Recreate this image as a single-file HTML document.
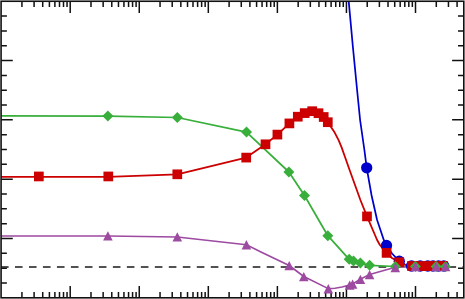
<!DOCTYPE html>
<html><head><meta charset="utf-8"><title>chart</title>
<style>html,body{margin:0;padding:0;background:#fff;font-family:"Liberation Sans",sans-serif;}body{width:465px;height:299px;overflow:hidden;position:relative}</style></head>
<body>
<svg width="465" height="299" viewBox="0 0 465 299" style="position:absolute;left:0;top:0">
<rect x="0" y="0" width="465" height="299" fill="#fff"/>
<path d="M21.93 1.25 V7.00 M21.93 297.8 V292.00 M34.09 1.25 V7.00 M34.09 297.8 V292.00 M42.72 1.25 V7.00 M42.72 297.8 V292.00 M49.41 1.25 V7.00 M49.41 297.8 V292.00 M54.88 1.25 V7.00 M54.88 297.8 V292.00 M59.50 1.25 V7.00 M59.50 297.8 V292.00 M63.51 1.25 V7.00 M63.51 297.8 V292.00 M67.04 1.25 V7.00 M67.04 297.8 V292.00 M70.20 1.25 V12.90 M70.20 297.8 V286.10 M90.99 1.25 V7.00 M90.99 297.8 V292.00 M103.15 1.25 V7.00 M103.15 297.8 V292.00 M111.78 1.25 V7.00 M111.78 297.8 V292.00 M118.47 1.25 V7.00 M118.47 297.8 V292.00 M123.94 1.25 V7.00 M123.94 297.8 V292.00 M128.56 1.25 V7.00 M128.56 297.8 V292.00 M132.57 1.25 V7.00 M132.57 297.8 V292.00 M136.10 1.25 V7.00 M136.10 297.8 V292.00 M139.26 1.25 V12.90 M139.26 297.8 V286.10 M160.05 1.25 V7.00 M160.05 297.8 V292.00 M172.21 1.25 V7.00 M172.21 297.8 V292.00 M180.84 1.25 V7.00 M180.84 297.8 V292.00 M187.53 1.25 V7.00 M187.53 297.8 V292.00 M193.00 1.25 V7.00 M193.00 297.8 V292.00 M197.62 1.25 V7.00 M197.62 297.8 V292.00 M201.63 1.25 V7.00 M201.63 297.8 V292.00 M205.16 1.25 V7.00 M205.16 297.8 V292.00 M208.32 1.25 V12.90 M208.32 297.8 V286.10 M229.11 1.25 V7.00 M229.11 297.8 V292.00 M241.27 1.25 V7.00 M241.27 297.8 V292.00 M249.90 1.25 V7.00 M249.90 297.8 V292.00 M256.59 1.25 V7.00 M256.59 297.8 V292.00 M262.06 1.25 V7.00 M262.06 297.8 V292.00 M266.68 1.25 V7.00 M266.68 297.8 V292.00 M270.69 1.25 V7.00 M270.69 297.8 V292.00 M274.22 1.25 V7.00 M274.22 297.8 V292.00 M277.38 1.25 V12.90 M277.38 297.8 V286.10 M298.17 1.25 V7.00 M298.17 297.8 V292.00 M310.33 1.25 V7.00 M310.33 297.8 V292.00 M318.96 1.25 V7.00 M318.96 297.8 V292.00 M325.65 1.25 V7.00 M325.65 297.8 V292.00 M331.12 1.25 V7.00 M331.12 297.8 V292.00 M335.74 1.25 V7.00 M335.74 297.8 V292.00 M339.75 1.25 V7.00 M339.75 297.8 V292.00 M343.28 1.25 V7.00 M343.28 297.8 V292.00 M346.44 1.25 V12.90 M346.44 297.8 V286.10 M367.23 1.25 V7.00 M367.23 297.8 V292.00 M379.39 1.25 V7.00 M379.39 297.8 V292.00 M388.02 1.25 V7.00 M388.02 297.8 V292.00 M394.71 1.25 V7.00 M394.71 297.8 V292.00 M400.18 1.25 V7.00 M400.18 297.8 V292.00 M404.80 1.25 V7.00 M404.80 297.8 V292.00 M408.81 1.25 V7.00 M408.81 297.8 V292.00 M412.34 1.25 V7.00 M412.34 297.8 V292.00 M415.50 1.25 V12.90 M415.50 297.8 V286.10 M436.29 1.25 V7.00 M436.29 297.8 V292.00 M448.45 1.25 V7.00 M448.45 297.8 V292.00 M457.08 1.25 V7.00 M457.08 297.8 V292.00 M1.08 16.08 H6.88 M463.8 16.08 H458.00 M1.08 30.91 H6.88 M463.8 30.91 H458.00 M1.08 45.73 H6.88 M463.8 45.73 H458.00 M1.08 60.56 H12.78 M463.8 60.56 H452.10 M1.08 75.39 H6.88 M463.8 75.39 H458.00 M1.08 90.22 H6.88 M463.8 90.22 H458.00 M1.08 105.04 H6.88 M463.8 105.04 H458.00 M1.08 119.87 H12.78 M463.8 119.87 H452.10 M1.08 134.70 H6.88 M463.8 134.70 H458.00 M1.08 149.53 H6.88 M463.8 149.53 H458.00 M1.08 164.35 H6.88 M463.8 164.35 H458.00 M1.08 179.18 H12.78 M463.8 179.18 H452.10 M1.08 194.01 H6.88 M463.8 194.01 H458.00 M1.08 208.84 H6.88 M463.8 208.84 H458.00 M1.08 223.66 H6.88 M463.8 223.66 H458.00 M1.08 238.49 H12.78 M463.8 238.49 H452.10 M1.08 253.32 H6.88 M463.8 253.32 H458.00 M1.08 268.14 H6.88 M463.8 268.14 H458.00 M1.08 282.97 H6.88 M463.8 282.97 H458.00" stroke="#111" stroke-width="1.5" fill="none"/>
<path d="M1 267 H463.5" stroke="#1a1a1a" stroke-width="1.7" stroke-dasharray="7.6 6.385" fill="none"/>
<clipPath id="cp"><rect x="1.08" y="1.25" width="462.72" height="296.55"/></clipPath>
<g clip-path="url(#cp)">
<path d="M348.6 0.0 L352.9 47.0 L357.6 95.0 L360.1 120.0 L364.4 150.0 L366.7 167.8 L371.5 195.0 L372.6 200.0 L377.1 220.0 L383.8 240.0 L386.5 245.5 L392.0 253.5 L399.3 261.2 L405.0 264.5 L411.5 266.0 L420.2 266.0 L427.8 266.0 L433.0 266.0 L438.5 266.0 L443.8 266.0" stroke="#0000CC" stroke-width="1.75" fill="none" stroke-linejoin="round"/>
<path d="M1.0 176.8 L38.9 176.8 L108.3 176.8 L177.3 174.3 L246.2 157.6 L265.5 144.3 L277.4 134.6 L289.4 123.4 L297.8 116.7 L304.7 113.1 L312.2 111.2 L318.5 113.2 L323.7 117.0 L327.8 122.2 L331.0 126.9 L334.7 132.6 L338.6 140.1 L341.7 147.6 L344.3 155.0 L349.6 170.0 L358.6 195.0 L360.4 200.0 L367.0 216.4 L377.1 240.0 L379.9 245.0 L386.6 252.9 L392.0 258.0 L399.2 262.3 L405.0 264.8 L412.0 266.0 L443.2 266.1" stroke="#CC0000" stroke-width="1.8" fill="none" stroke-linejoin="round"/>
<path d="M1.0 115.9 L107.9 116.0 L177.3 117.5 L246.5 132.1 L288.9 172.0 L304.5 195.5 L327.8 235.7 L349.2 259.3 L353.5 261.0 L360.4 263.1 L369.6 265.3 L395.3 266.5 L415.4 266.6 L436.1 266.6 L445.5 266.7" stroke="#39AF3B" stroke-width="1.75" fill="none" stroke-linejoin="round"/>
<path d="M1.0 236.0 L107.9 236.0 L177.3 237.0 L246.4 244.8 L262.0 252.5 L289.2 265.5 L303.8 276.5 L328.3 288.6 L335.0 288.3 L342.0 287.0 L349.7 285.0 L352.6 284.0 L360.4 279.2 L369.6 274.4 L395.3 267.3 L415.4 266.4 L436.1 266.3 L445.5 266.3" stroke="#9D4AA1" stroke-width="1.6" fill="none" stroke-linejoin="round"/>
<circle cx="366.7" cy="167.8" r="5.65" fill="#0000CC"/>
<circle cx="386.5" cy="245.5" r="5.65" fill="#0000CC"/>
<circle cx="399.3" cy="261.2" r="5.65" fill="#0000CC"/>
<circle cx="411.5" cy="266.0" r="5.65" fill="#0000CC"/>
<circle cx="420.2" cy="266.0" r="5.65" fill="#0000CC"/>
<circle cx="427.8" cy="266.0" r="5.65" fill="#0000CC"/>
<circle cx="433.0" cy="266.0" r="5.65" fill="#0000CC"/>
<circle cx="438.5" cy="266.0" r="5.65" fill="#0000CC"/>
<circle cx="443.8" cy="266.0" r="5.65" fill="#0000CC"/>
<rect x="34.00" y="171.60" width="9.7" height="9.7" fill="#CC0000"/>
<rect x="103.45" y="171.60" width="9.7" height="9.7" fill="#CC0000"/>
<rect x="172.45" y="169.45" width="9.7" height="9.7" fill="#CC0000"/>
<rect x="241.35" y="152.75" width="9.7" height="9.7" fill="#CC0000"/>
<rect x="260.65" y="139.45" width="9.7" height="9.7" fill="#CC0000"/>
<rect x="272.55" y="129.75" width="9.7" height="9.7" fill="#CC0000"/>
<rect x="284.55" y="118.55" width="9.7" height="9.7" fill="#CC0000"/>
<rect x="292.95" y="111.85" width="9.7" height="9.7" fill="#CC0000"/>
<rect x="299.85" y="108.25" width="9.7" height="9.7" fill="#CC0000"/>
<rect x="307.35" y="106.35" width="9.7" height="9.7" fill="#CC0000"/>
<rect x="313.65" y="108.35" width="9.7" height="9.7" fill="#CC0000"/>
<rect x="318.85" y="112.15" width="9.7" height="9.7" fill="#CC0000"/>
<rect x="322.95" y="117.35" width="9.7" height="9.7" fill="#CC0000"/>
<rect x="362.15" y="211.55" width="9.7" height="9.7" fill="#CC0000"/>
<rect x="381.75" y="248.05" width="9.7" height="9.7" fill="#CC0000"/>
<rect x="394.35" y="257.45" width="9.7" height="9.7" fill="#CC0000"/>
<rect x="407.15" y="261.15" width="9.7" height="9.7" fill="#CC0000"/>
<rect x="415.55" y="261.20" width="9.7" height="9.7" fill="#CC0000"/>
<rect x="422.95" y="261.20" width="9.7" height="9.7" fill="#CC0000"/>
<rect x="428.25" y="261.20" width="9.7" height="9.7" fill="#CC0000"/>
<rect x="433.65" y="261.20" width="9.7" height="9.7" fill="#CC0000"/>
<rect x="438.35" y="261.20" width="9.7" height="9.7" fill="#CC0000"/>
<path d="M102.40 116.00 L107.90 110.50 L113.40 116.00 L107.90 121.50 Z" fill="#39AF3B"/>
<path d="M171.80 117.50 L177.30 112.00 L182.80 117.50 L177.30 123.00 Z" fill="#39AF3B"/>
<path d="M241.00 132.10 L246.50 126.60 L252.00 132.10 L246.50 137.60 Z" fill="#39AF3B"/>
<path d="M283.40 172.00 L288.90 166.50 L294.40 172.00 L288.90 177.50 Z" fill="#39AF3B"/>
<path d="M299.00 195.50 L304.50 190.00 L310.00 195.50 L304.50 201.00 Z" fill="#39AF3B"/>
<path d="M322.30 235.70 L327.80 230.20 L333.30 235.70 L327.80 241.20 Z" fill="#39AF3B"/>
<path d="M343.70 259.30 L349.20 253.80 L354.70 259.30 L349.20 264.80 Z" fill="#39AF3B"/>
<path d="M348.00 261.00 L353.50 255.50 L359.00 261.00 L353.50 266.50 Z" fill="#39AF3B"/>
<path d="M354.90 263.10 L360.40 257.60 L365.90 263.10 L360.40 268.60 Z" fill="#39AF3B"/>
<path d="M364.10 265.30 L369.60 259.80 L375.10 265.30 L369.60 270.80 Z" fill="#39AF3B"/>
<path d="M389.80 266.50 L395.30 261.00 L400.80 266.50 L395.30 272.00 Z" fill="#39AF3B"/>
<path d="M409.90 266.60 L415.40 261.10 L420.90 266.60 L415.40 272.10 Z" fill="#39AF3B"/>
<path d="M430.60 266.60 L436.10 261.10 L441.60 266.60 L436.10 272.10 Z" fill="#39AF3B"/>
<path d="M440.00 266.70 L445.50 261.20 L451.00 266.70 L445.50 272.20 Z" fill="#39AF3B"/>
<path d="M103.10 240.55 L107.90 231.20 L112.70 240.55 Z" fill="#9D4AA1"/>
<path d="M172.50 241.55 L177.30 232.20 L182.10 241.55 Z" fill="#9D4AA1"/>
<path d="M241.60 249.45 L246.40 240.10 L251.20 249.45 Z" fill="#9D4AA1"/>
<path d="M284.40 270.35 L289.20 261.00 L294.00 270.35 Z" fill="#9D4AA1"/>
<path d="M299.00 281.35 L303.80 272.00 L308.60 281.35 Z" fill="#9D4AA1"/>
<path d="M323.50 293.45 L328.30 284.10 L333.10 293.45 Z" fill="#9D4AA1"/>
<path d="M344.90 289.85 L349.70 280.50 L354.50 289.85 Z" fill="#9D4AA1"/>
<path d="M347.80 288.85 L352.60 279.50 L357.40 288.85 Z" fill="#9D4AA1"/>
<path d="M355.60 284.05 L360.40 274.70 L365.20 284.05 Z" fill="#9D4AA1"/>
<path d="M364.80 279.25 L369.60 269.90 L374.40 279.25 Z" fill="#9D4AA1"/>
<path d="M390.50 272.15 L395.30 262.80 L400.10 272.15 Z" fill="#9D4AA1"/>
<path d="M410.60 271.20 L415.40 261.85 L420.20 271.20 Z" fill="#9D4AA1"/>
<path d="M431.30 271.15 L436.10 261.80 L440.90 271.15 Z" fill="#9D4AA1"/>
<path d="M440.70 271.15 L445.50 261.80 L450.30 271.15 Z" fill="#9D4AA1"/>
</g>
<rect x="1.08" y="1.25" width="462.72" height="296.55" fill="none" stroke="#111" stroke-width="1.6"/>
</svg>
</body></html>
